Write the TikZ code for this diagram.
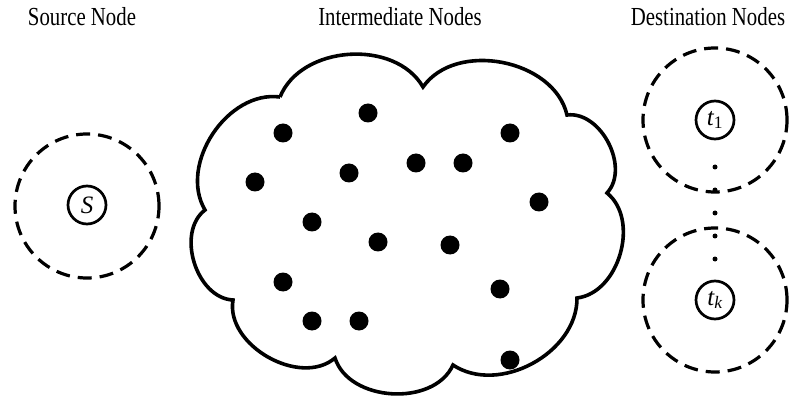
\documentclass[tikz,border=0pt]{standalone}
\usepackage{fontspec}
\setmainfont{Liberation Serif}
\newfontfamily\labelfont[FakeStretch=0.8]{Liberation Serif}
\usetikzlibrary{positioning}

\begin{document}
\begin{tikzpicture}[x=1pt, y=1pt, every node/.style={inner sep=0pt},
    title/.style={font=\labelfont\fontsize{26}{28}\selectfont, anchor=base},
    zone/.style={draw, circle, line width=3.2pt, dash pattern=on 14pt off 8pt, minimum size=144pt},
    term/.style={draw, circle, line width=2.7pt, minimum size=38pt, font=\fontsize{25}{27}\selectfont\itshape},
    relay/.style={fill, circle, minimum size=19pt},
    vdot/.style={fill, circle, minimum size=5pt}]
  \useasboundingbox (0,0) rectangle (789,-403);

  % column titles
  \node[title] (srclabel) at (82,-26) {Source Node};
  \node[title] (midlabel) at (400,-26) {Intermediate Nodes};
  \node[title] (dstlabel) at (708,-26) {Destination Nodes};

  % source
  \node[zone] (srczone) at (87,-206) {};
  \node[term] (src) at (87,-205) {S};

  % intermediate cloud
  \coordinate (c1) at (280,-97);
  \coordinate (c2) at (423,-87);
  \coordinate (c3) at (567,-115);
  \coordinate (c4) at (607,-193);
  \coordinate (c5) at (577,-298);
  \coordinate (c6) at (453,-365);
  \coordinate (c7) at (335,-358);
  \coordinate (c8) at (233,-300);
  \coordinate (c9) at (205,-210);
  \draw[line width=3.6pt, line join=miter]
    (c1) to[bend left=64] (c2) to[bend left=66] (c3) to[bend left=70] (c4)
    to[bend left=67] (c5) to[bend left=62] (c6) to[bend left=69] (c7)
    to[bend left=70] (c8) to[bend left=70] (c9) to[bend left=64] (c1);
  \foreach \x/\y [count=\i] in {368/113, 283/133, 510/133, 255/182, 349/173, 416/163,
      463/163, 539/202, 312/222, 378/242, 450/245, 283/282, 500/289, 312/321, 359/321, 510/360}
    \node[relay] (r\i) at (\x,-\y) {};

  % destinations
  \node[zone] (t1zone) at (715,-120) {};
  \node[term] (t1) at (715,-120) {t\textsubscript{\upshape 1}};
  \node[zone] (tkzone) at (715,-300) {};
  \node[term] (tk) at (715,-300) {t\textsubscript{k}};
  \foreach \y [count=\i] in {167,190,213,236,259}
    \node[vdot] (v\i) at (715,-\y) {};
\end{tikzpicture}
\end{document}
